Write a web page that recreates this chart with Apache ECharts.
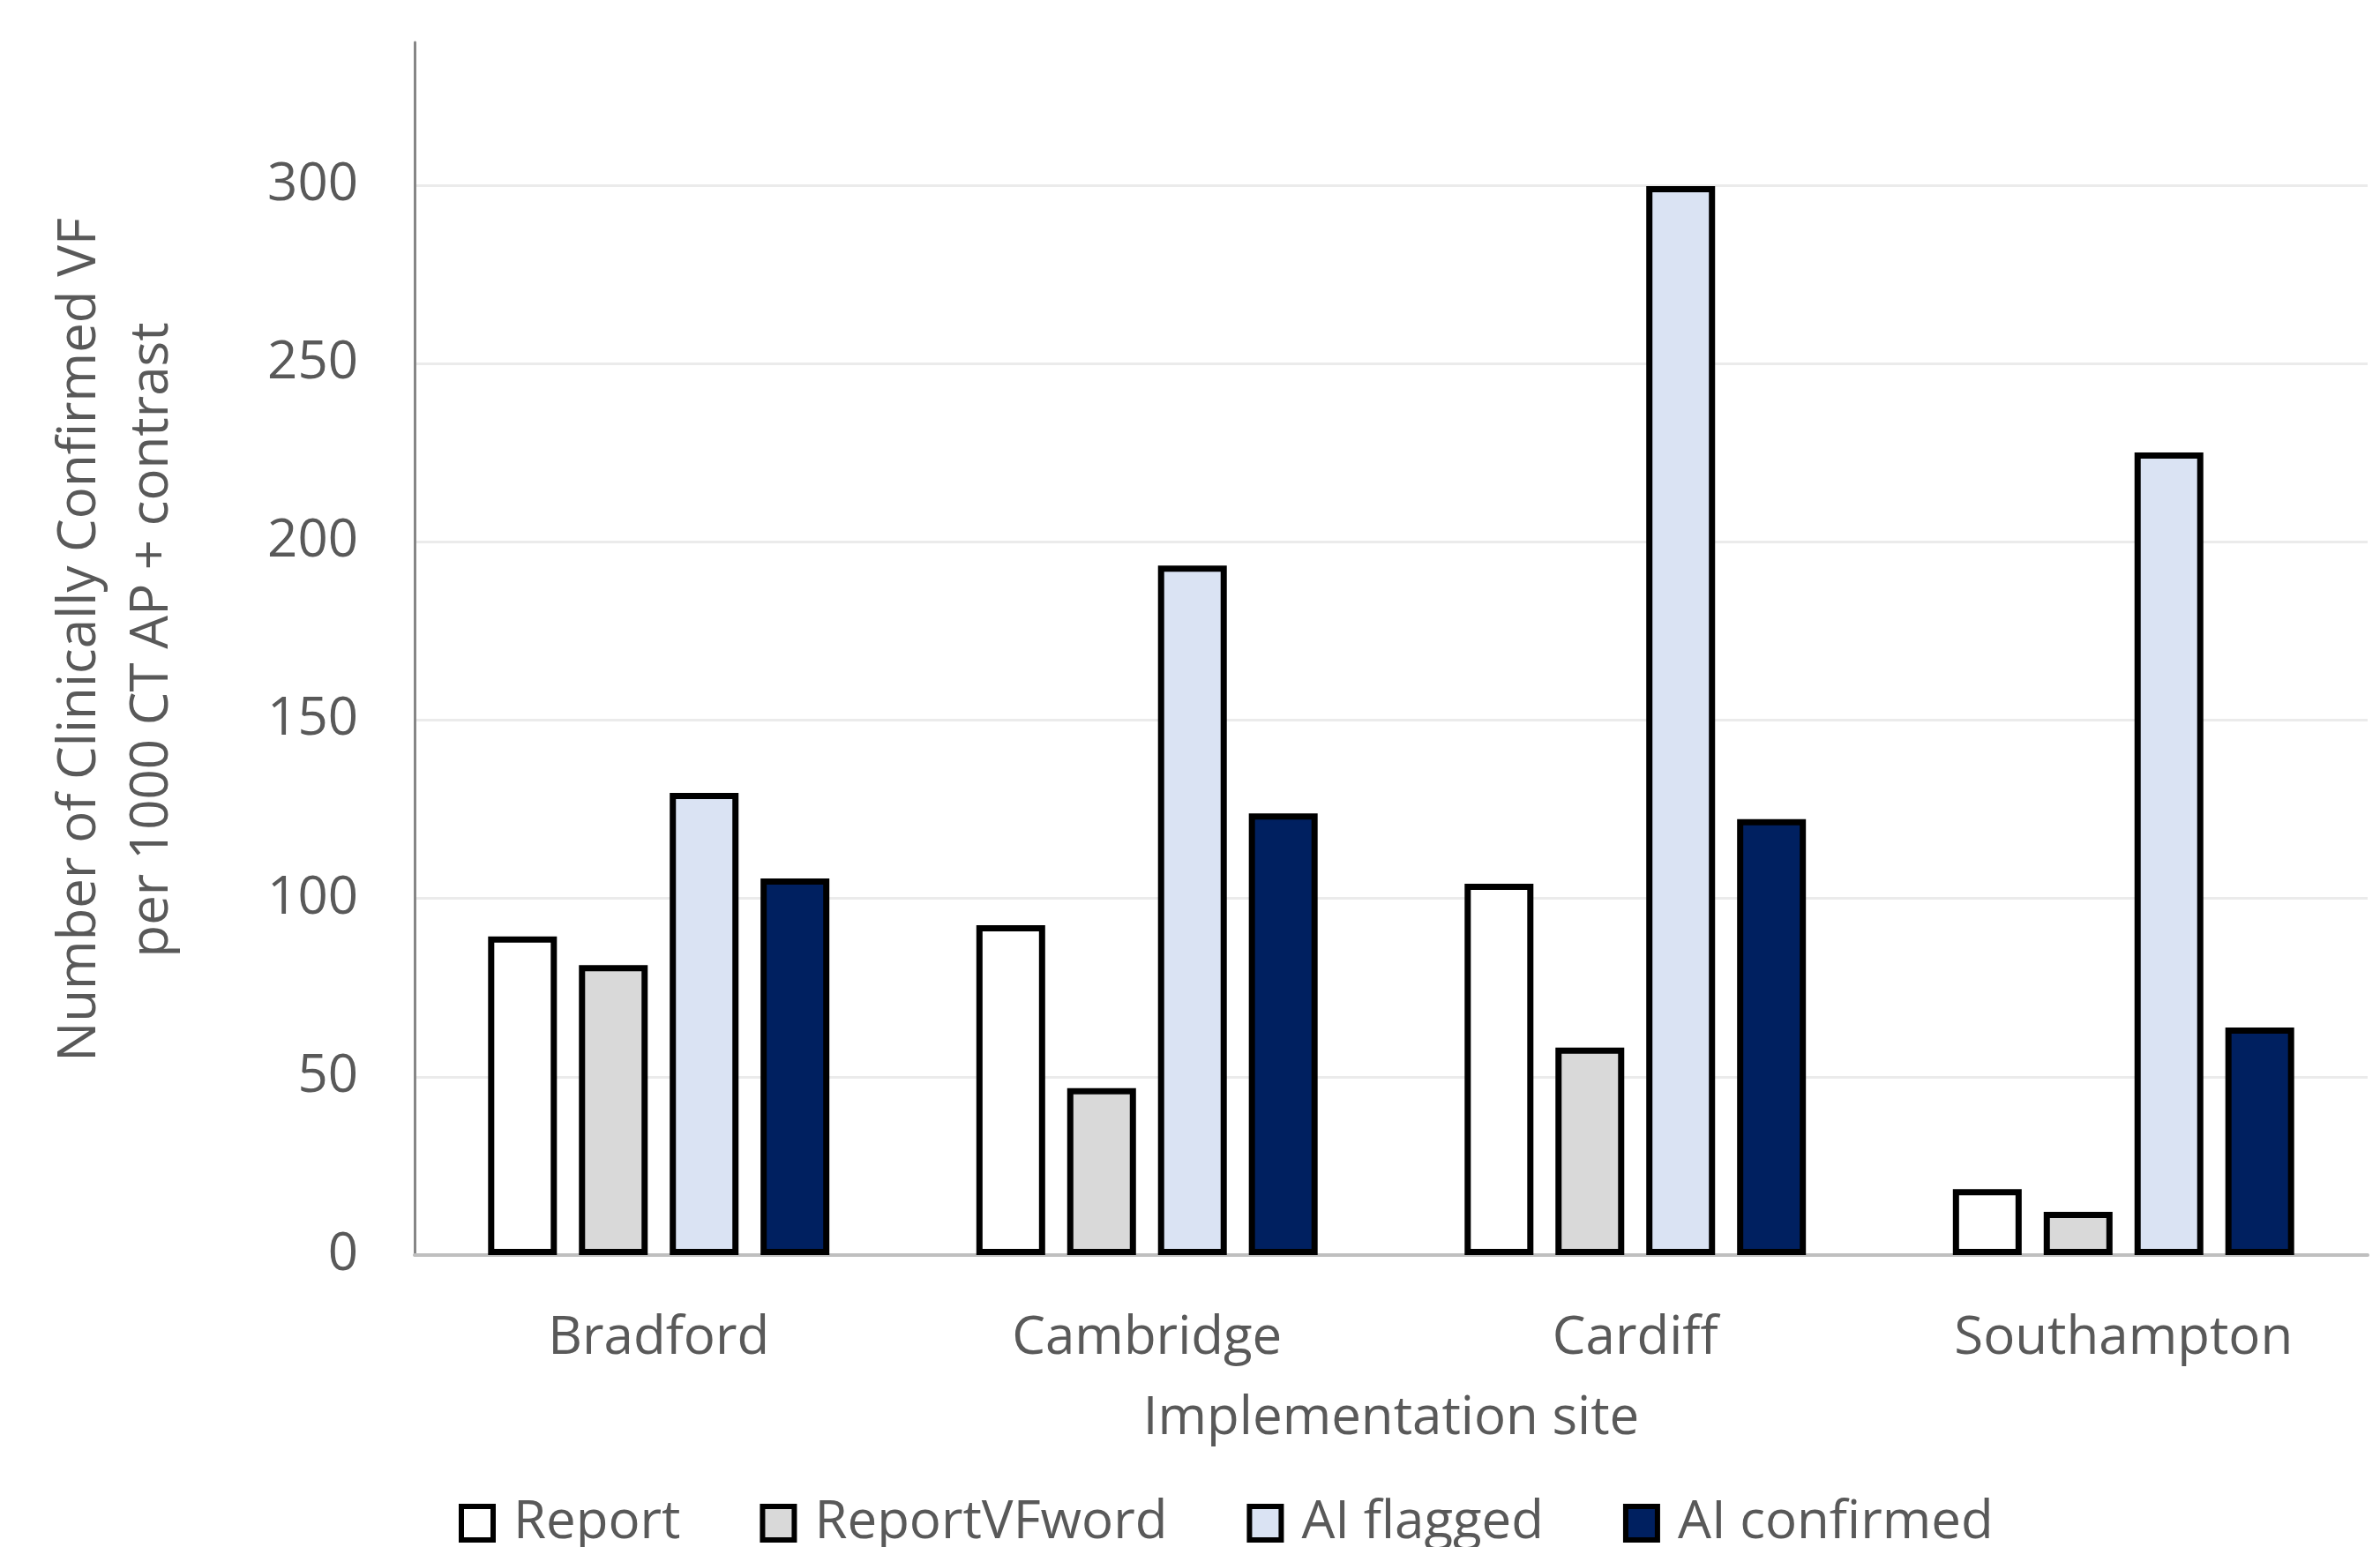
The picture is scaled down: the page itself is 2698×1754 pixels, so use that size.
<!DOCTYPE html>
<html>
<head>
<meta charset="utf-8">
<script src="https://cdn.jsdelivr.net/npm/echarts@6/dist/echarts.min.js"></script>
<style>
  html, body { margin: 0; padding: 0; background: #ffffff; }
  #chart { width: 2698px; height: 1754px; }
</style>
</head>
<body>
<div id="chart"></div>
<script>
// Implementation sites
const sites = ['Bradford', 'Cambridge', 'Cardiff', 'Southampton'];

// Clinically confirmed VF per 1000 CT AP + contrast, by detection route
const report       = [89.3, 92.5, 104.1, 18.5];
const reportVFword = [81.3, 46.8, 58.2, 12.1];
const aiFlagged    = [129.6, 193.3, 299.7, 225.0];
const aiConfirmed  = [105.6, 123.8, 122.2, 63.8];

const seriesNames = ['Report', 'ReportVFword', 'AI flagged', 'AI confirmed'];
const seriesValues = [report, reportVFword, aiFlagged, aiConfirmed];
const seriesColors = ['#ffffff', '#d9d9d9', '#dae3f3', '#002060'];

// Value axis
const yMin = 0;
const yMax = 340;
const yStep = 50;

const FONT = 'Open Sans';
const FONT_SIZE = 60;
const TEXT_COLOR = '#595959';

const chart = echarts.init(document.getElementById('chart'), null, { renderer: 'canvas' });

const option = {
  backgroundColor: '#ffffff',
  animation: false,
  textStyle: { fontFamily: FONT },
  grid: { left: 470, right: 14, top: 48, bottom: 331, containLabel: false, outerBoundsMode: 'none' },
  legend: {
    left: 515,
    top: 1692,
    itemWidth: 36,
    itemHeight: 38,
    itemGap: 90,
    icon: 'rect',
    itemStyle: { borderColor: '#000000', borderWidth: 6 },
    textStyle: { fontFamily: FONT, fontSize: FONT_SIZE, color: TEXT_COLOR, padding: [0, 0, 0, 18] },
    data: seriesNames
  },
  xAxis: {
    type: 'category',
    data: sites,
    name: 'Implementation site',
    nameLocation: 'middle',
    nameGap: 156,
    nameTextStyle: { fontFamily: FONT, fontSize: FONT_SIZE, color: TEXT_COLOR },
    axisLine: { show: true, lineStyle: { color: '#bfbfbf', width: 4 } },
    axisTick: { show: false },
    axisLabel: { fontFamily: FONT, fontSize: FONT_SIZE, color: TEXT_COLOR, margin: 65 },
    splitLine: { show: false }
  },
  yAxis: {
    type: 'value',
    min: yMin,
    max: yMax,
    interval: yStep,
    name: 'Number of Clinically Confirmed VF\nper 1000 CT AP + contrast',
    nameLocation: 'middle',
    nameGap: 256,
    nameTextStyle: { fontFamily: FONT, fontSize: FONT_SIZE, color: TEXT_COLOR, lineHeight: 82, padding: [0, 0, 0, 20] },
    axisLine: { show: true, lineStyle: { color: '#868686', width: 3 } },
    axisTick: { show: false },
    axisLabel: { fontFamily: FONT, fontSize: FONT_SIZE, color: TEXT_COLOR, margin: 64, showMaxLabel: false },
    splitLine: { show: true, showMaxLine: false, lineStyle: { color: '#ebebeb', width: 3 } }
  },
  series: seriesNames.map((name, i) => ({
    name: name,
    type: 'bar',
    data: seriesValues[i],
    barWidth: 78,
    barGap: '32%',
    itemStyle: { color: seriesColors[i], borderColor: '#000000', borderWidth: 7 },
    emphasis: { disabled: true }
  }))
};

chart.setOption(option);
</script>
</body>
</html>
